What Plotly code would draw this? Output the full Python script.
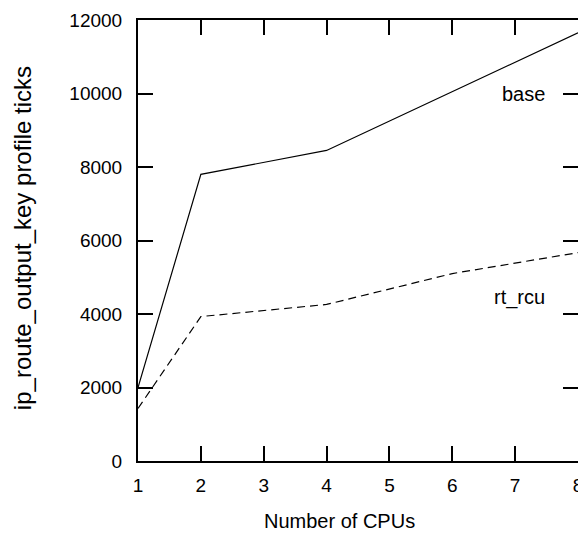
import plotly.graph_objects as go

cpus_base = [1, 2, 4, 6, 8]
ticks_base = [2000, 7800, 8450, 10060, 11650]
cpus_rcu = [1, 2, 4, 6, 8]
ticks_rcu = [1430, 3930, 4260, 5100, 5670]

x_ticks = [1, 2, 3, 4, 5, 6, 7, 8]
y_ticks = [0, 2000, 4000, 6000, 8000, 10000, 12000]

font = "Liberation Sans, Arial, Helvetica, sans-serif"

fig = go.Figure()
fig.add_trace(go.Scatter(x=cpus_base, y=ticks_base, mode="lines",
                         line=dict(color="black", width=1.2), name="base"))
fig.add_trace(go.Scatter(x=cpus_rcu, y=ticks_rcu, mode="lines",
                         line=dict(color="black", width=1.2, dash="8px,5px"), name="rt_rcu"))

fig.add_annotation(x=7.5, y=10000, text="base", showarrow=False,
                   xanchor="right", yanchor="middle", font=dict(size=20, color="black", family=font))
fig.add_annotation(x=7.5, y=4450, text="rt_rcu", showarrow=False,
                   xanchor="right", yanchor="middle", font=dict(size=20, color="black", family=font))

# axis titles placed as paper annotations
fig.add_annotation(xref="paper", yref="paper", x=0.459, y=-0.135, text="Number of CPUs",
                   showarrow=False, xanchor="center", yanchor="middle",
                   font=dict(size=20, color="black", family=font))
fig.add_annotation(xref="paper", yref="paper", x=-0.264, y=0.505,
                   text="ip_route_output_key profile ticks", textangle=-90,
                   showarrow=False, xanchor="center", yanchor="middle",
                   font=dict(size=24, color="black", family=font))

axis_common = dict(showline=True, linecolor="black", linewidth=2, mirror="ticks",
                   ticks="inside", ticklen=15, tickwidth=2, tickcolor="black",
                   showgrid=False, zeroline=False, automargin=False,
                   tickfont=dict(size=19, color="black", family=font))

fig.update_xaxes(range=[1, 8], tickvals=x_ticks, ticklabelstandoff=6, **axis_common)
fig.update_yaxes(range=[0, 12000], tickvals=y_ticks, tickformat="d",
                 ticklabelstandoff=10, **axis_common)

# page body adds an 8px offset, so the figure is 8px smaller and margins shifted
fig.update_layout(width=578, height=525, showlegend=False,
                  paper_bgcolor="white", plot_bgcolor="white",
                  margin=dict(l=130, r=8, t=12, b=72, autoexpand=False))

fig.write_html("out.html")
